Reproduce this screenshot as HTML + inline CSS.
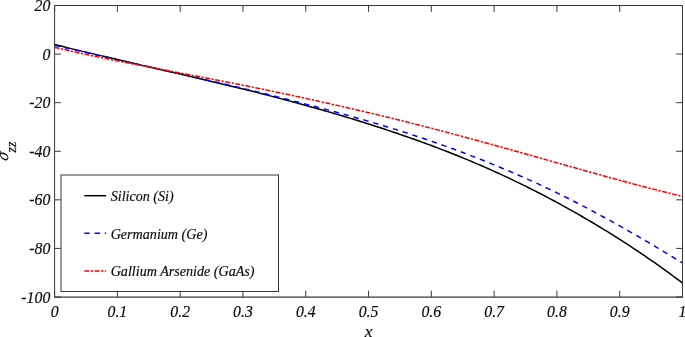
<!DOCTYPE html>
<html><head><meta charset="utf-8"><title>plot</title>
<style>
html,body{margin:0;padding:0;background:#fff;}
body{width:685px;height:337px;overflow:hidden;}
svg{display:block;}
text{font-family:"Liberation Serif",serif;font-style:italic;fill:#0a0a0a;stroke:#0a0a0a;stroke-width:0.16px;}
</style></head><body>
<svg width="685" height="337" viewBox="0 0 685 337">
<rect width="685" height="337" fill="#fff"/>
<clipPath id="c"><rect x="54.6" y="5.5" width="627.9" height="291.5"/></clipPath>
<g clip-path="url(#c)" fill="none" stroke-width="1.5">
<path d="M54.60,44.55 L57.74,45.32 L60.88,46.09 L64.02,46.85 L67.16,47.62 L70.30,48.37 L73.44,49.13 L76.58,49.89 L79.72,50.64 L82.86,51.39 L86.00,52.14 L89.13,52.89 L92.27,53.64 L95.41,54.38 L98.55,55.12 L101.69,55.86 L104.83,56.60 L107.97,57.34 L111.11,58.07 L114.25,58.81 L117.39,59.54 L120.53,60.28 L123.67,61.01 L126.81,61.74 L129.95,62.47 L133.09,63.20 L136.23,63.92 L139.37,64.65 L142.51,65.38 L145.65,66.11 L148.78,66.83 L151.92,67.56 L155.06,68.28 L158.20,69.01 L161.34,69.73 L164.48,70.46 L167.62,71.18 L170.76,71.91 L173.90,72.64 L177.04,73.36 L180.18,74.09 L183.32,74.82 L186.46,75.55 L189.60,76.28 L192.74,77.01 L195.88,77.74 L199.02,78.47 L202.16,79.21 L205.30,79.94 L208.44,80.68 L211.57,81.42 L214.71,82.16 L217.85,82.91 L220.99,83.65 L224.13,84.40 L227.27,85.15 L230.41,85.90 L233.55,86.65 L236.69,87.42 L239.83,88.18 L242.97,88.96 L246.11,89.73 L249.25,90.51 L252.39,91.30 L255.53,92.09 L258.67,92.89 L261.81,93.69 L264.95,94.50 L268.09,95.31 L271.23,96.13 L274.37,96.95 L277.50,97.78 L280.64,98.61 L283.78,99.44 L286.92,100.28 L290.06,101.13 L293.20,101.98 L296.34,102.83 L299.48,103.69 L302.62,104.55 L305.76,105.41 L308.90,106.28 L312.04,107.16 L315.18,108.03 L318.32,108.92 L321.46,109.81 L324.60,110.70 L327.74,111.60 L330.88,112.51 L334.02,113.43 L337.16,114.35 L340.29,115.28 L343.43,116.22 L346.57,117.16 L349.71,118.11 L352.85,119.07 L355.99,120.03 L359.13,121.01 L362.27,121.98 L365.41,122.97 L368.55,123.97 L371.69,124.97 L374.83,125.98 L377.97,126.99 L381.11,128.02 L384.25,129.05 L387.39,130.09 L390.53,131.14 L393.67,132.20 L396.81,133.26 L399.95,134.34 L403.08,135.42 L406.22,136.51 L409.36,137.61 L412.50,138.71 L415.64,139.83 L418.78,140.95 L421.92,142.09 L425.06,143.24 L428.20,144.39 L431.34,145.56 L434.48,146.74 L437.62,147.92 L440.76,149.12 L443.90,150.33 L447.04,151.56 L450.18,152.79 L453.32,154.03 L456.46,155.29 L459.60,156.56 L462.74,157.84 L465.87,159.13 L469.01,160.43 L472.15,161.75 L475.29,163.08 L478.43,164.42 L481.57,165.77 L484.71,167.14 L487.85,168.52 L490.99,169.91 L494.13,171.32 L497.27,172.74 L500.41,174.18 L503.55,175.62 L506.69,177.09 L509.83,178.56 L512.97,180.06 L516.11,181.56 L519.25,183.08 L522.39,184.62 L525.52,186.16 L528.66,187.73 L531.80,189.30 L534.94,190.89 L538.08,192.50 L541.22,194.12 L544.36,195.75 L547.50,197.40 L550.64,199.07 L553.78,200.75 L556.92,202.44 L560.06,204.15 L563.20,205.87 L566.34,207.60 L569.48,209.35 L572.62,211.12 L575.76,212.89 L578.90,214.68 L582.04,216.49 L585.18,218.31 L588.31,220.14 L591.45,221.99 L594.59,223.86 L597.73,225.74 L600.87,227.63 L604.01,229.55 L607.15,231.48 L610.29,233.43 L613.43,235.39 L616.57,237.37 L619.71,239.37 L622.85,241.39 L625.99,243.41 L629.13,245.46 L632.27,247.52 L635.41,249.60 L638.55,251.69 L641.69,253.81 L644.83,255.94 L647.97,258.09 L651.11,260.26 L654.24,262.45 L657.38,264.66 L660.52,266.89 L663.66,269.14 L666.80,271.41 L669.94,273.70 L673.08,276.02 L676.22,278.35 L679.36,280.70 L682.50,283.07" stroke="#000"/>
<path d="M54.60,45.36 L57.74,46.08 L60.88,46.79 L64.02,47.51 L67.16,48.23 L70.30,48.94 L73.44,49.66 L76.58,50.38 L79.72,51.10 L82.86,51.81 L86.00,52.53 L89.13,53.25 L92.27,53.97 L95.41,54.69 L98.55,55.40 L101.69,56.12 L104.83,56.84 L107.97,57.56 L111.11,58.27 L114.25,58.99 L117.39,59.70 L120.53,60.42 L123.67,61.13 L126.81,61.85 L129.95,62.56 L133.09,63.28 L136.23,63.99 L139.37,64.71 L142.51,65.42 L145.65,66.13 L148.78,66.84 L151.92,67.56 L155.06,68.27 L158.20,68.98 L161.34,69.69 L164.48,70.40 L167.62,71.11 L170.76,71.83 L173.90,72.54 L177.04,73.25 L180.18,73.96 L183.32,74.67 L186.46,75.39 L189.60,76.10 L192.74,76.81 L195.88,77.53 L199.02,78.24 L202.16,78.95 L205.30,79.67 L208.44,80.39 L211.57,81.10 L214.71,81.82 L217.85,82.54 L220.99,83.26 L224.13,83.99 L227.27,84.71 L230.41,85.43 L233.55,86.16 L236.69,86.90 L239.83,87.64 L242.97,88.38 L246.11,89.14 L249.25,89.89 L252.39,90.65 L255.53,91.42 L258.67,92.19 L261.81,92.96 L264.95,93.74 L268.09,94.52 L271.23,95.31 L274.37,96.10 L277.50,96.89 L280.64,97.69 L283.78,98.48 L286.92,99.29 L290.06,100.09 L293.20,100.89 L296.34,101.70 L299.48,102.51 L302.62,103.32 L305.76,104.14 L308.90,104.95 L312.04,105.77 L315.18,106.58 L318.32,107.40 L321.46,108.23 L324.60,109.06 L327.74,109.89 L330.88,110.73 L334.02,111.58 L337.16,112.43 L340.29,113.29 L343.43,114.15 L346.57,115.02 L349.71,115.89 L352.85,116.77 L355.99,117.66 L359.13,118.56 L362.27,119.46 L365.41,120.36 L368.55,121.28 L371.69,122.20 L374.83,123.13 L377.97,124.07 L381.11,125.01 L384.25,125.96 L387.39,126.92 L390.53,127.89 L393.67,128.86 L396.81,129.84 L399.95,130.83 L403.08,131.83 L406.22,132.84 L409.36,133.86 L412.50,134.88 L415.64,135.92 L418.78,136.96 L421.92,138.01 L425.06,139.07 L428.20,140.14 L431.34,141.22 L434.48,142.31 L437.62,143.40 L440.76,144.51 L443.90,145.62 L447.04,146.75 L450.18,147.89 L453.32,149.03 L456.46,150.19 L459.60,151.35 L462.74,152.53 L465.87,153.72 L469.01,154.91 L472.15,156.12 L475.29,157.34 L478.43,158.57 L481.57,159.81 L484.71,161.06 L487.85,162.33 L490.99,163.60 L494.13,164.88 L497.27,166.17 L500.41,167.47 L503.55,168.78 L506.69,170.10 L509.83,171.43 L512.97,172.77 L516.11,174.12 L519.25,175.49 L522.39,176.86 L525.52,178.25 L528.66,179.65 L531.80,181.06 L534.94,182.48 L538.08,183.92 L541.22,185.37 L544.36,186.84 L547.50,188.32 L550.64,189.81 L553.78,191.31 L556.92,192.83 L560.06,194.37 L563.20,195.92 L566.34,197.48 L569.48,199.06 L572.62,200.65 L575.76,202.26 L578.90,203.87 L582.04,205.51 L585.18,207.15 L588.31,208.80 L591.45,210.47 L594.59,212.15 L597.73,213.84 L600.87,215.54 L604.01,217.25 L607.15,218.97 L610.29,220.70 L613.43,222.44 L616.57,224.19 L619.71,225.95 L622.85,227.71 L625.99,229.49 L629.13,231.28 L632.27,233.08 L635.41,234.88 L638.55,236.70 L641.69,238.52 L644.83,240.36 L647.97,242.20 L651.11,244.06 L654.24,245.92 L657.38,247.79 L660.52,249.66 L663.66,251.55 L666.80,253.44 L669.94,255.35 L673.08,257.25 L676.22,259.15 L679.36,261.06 L682.50,262.97" stroke="#0000ff" stroke-dasharray="5.35,4.897"/>
<path d="M54.60,47.25 L57.74,48.00 L60.88,48.73 L64.02,49.46 L67.16,50.19 L70.30,50.90 L73.44,51.61 L76.58,52.32 L79.72,53.01 L82.86,53.70 L86.00,54.38 L89.13,55.05 L92.27,55.72 L95.41,56.37 L98.55,57.02 L101.69,57.66 L104.83,58.30 L107.97,58.93 L111.11,59.56 L114.25,60.18 L117.39,60.81 L120.53,61.43 L123.67,62.05 L126.81,62.67 L129.95,63.28 L133.09,63.90 L136.23,64.51 L139.37,65.12 L142.51,65.73 L145.65,66.33 L148.78,66.94 L151.92,67.55 L155.06,68.15 L158.20,68.75 L161.34,69.36 L164.48,69.96 L167.62,70.56 L170.76,71.16 L173.90,71.77 L177.04,72.37 L180.18,72.97 L183.32,73.57 L186.46,74.18 L189.60,74.78 L192.74,75.38 L195.88,75.99 L199.02,76.59 L202.16,77.20 L205.30,77.80 L208.44,78.41 L211.57,79.02 L214.71,79.63 L217.85,80.24 L220.99,80.86 L224.13,81.47 L227.27,82.09 L230.41,82.71 L233.55,83.33 L236.69,83.95 L239.83,84.58 L242.97,85.21 L246.11,85.84 L249.25,86.48 L252.39,87.12 L255.53,87.76 L258.67,88.41 L261.81,89.06 L264.95,89.71 L268.09,90.36 L271.23,91.02 L274.37,91.68 L277.50,92.35 L280.64,93.01 L283.78,93.68 L286.92,94.35 L290.06,95.02 L293.20,95.70 L296.34,96.38 L299.48,97.06 L302.62,97.74 L305.76,98.42 L308.90,99.11 L312.04,99.79 L315.18,100.48 L318.32,101.17 L321.46,101.87 L324.60,102.56 L327.74,103.26 L330.88,103.97 L334.02,104.67 L337.16,105.38 L340.29,106.09 L343.43,106.81 L346.57,107.52 L349.71,108.25 L352.85,108.97 L355.99,109.70 L359.13,110.43 L362.27,111.16 L365.41,111.90 L368.55,112.64 L371.69,113.39 L374.83,114.14 L377.97,114.89 L381.11,115.64 L384.25,116.40 L387.39,117.17 L390.53,117.93 L393.67,118.70 L396.81,119.48 L399.95,120.25 L403.08,121.04 L406.22,121.82 L409.36,122.61 L412.50,123.40 L415.64,124.20 L418.78,125.00 L421.92,125.81 L425.06,126.61 L428.20,127.43 L431.34,128.24 L434.48,129.06 L437.62,129.88 L440.76,130.71 L443.90,131.54 L447.04,132.37 L450.18,133.20 L453.32,134.04 L456.46,134.88 L459.60,135.73 L462.74,136.57 L465.87,137.42 L469.01,138.27 L472.15,139.13 L475.29,139.98 L478.43,140.84 L481.57,141.70 L484.71,142.56 L487.85,143.42 L490.99,144.29 L494.13,145.16 L497.27,146.03 L500.41,146.90 L503.55,147.77 L506.69,148.64 L509.83,149.52 L512.97,150.40 L516.11,151.28 L519.25,152.16 L522.39,153.04 L525.52,153.92 L528.66,154.80 L531.80,155.69 L534.94,156.57 L538.08,157.45 L541.22,158.34 L544.36,159.23 L547.50,160.11 L550.64,161.00 L553.78,161.88 L556.92,162.77 L560.06,163.65 L563.20,164.54 L566.34,165.42 L569.48,166.31 L572.62,167.19 L575.76,168.07 L578.90,168.95 L582.04,169.83 L585.18,170.71 L588.31,171.58 L591.45,172.46 L594.59,173.33 L597.73,174.20 L600.87,175.07 L604.01,175.94 L607.15,176.81 L610.29,177.67 L613.43,178.53 L616.57,179.39 L619.71,180.24 L622.85,181.09 L625.99,181.94 L629.13,182.79 L632.27,183.63 L635.41,184.46 L638.55,185.30 L641.69,186.12 L644.83,186.95 L647.97,187.77 L651.11,188.58 L654.24,189.39 L657.38,190.19 L660.52,190.99 L663.66,191.78 L666.80,192.56 L669.94,193.34 L673.08,194.12 L676.22,194.88 L679.36,195.65 L682.50,196.40" stroke="#ff0000" stroke-dasharray="5.03,1.43,2.35,1.43"/>
</g>
<g stroke="#383838" stroke-width="1" fill="none">
<path d="M54.6,297.0V5.5H682.5V297.0"/><path d="M54.1,297.05H683.0" stroke-width="1.15"/>
<path d="M54.60,297.0v-6.3M54.60,5.5v6.3M117.39,297.0v-6.3M117.39,5.5v6.3M180.18,297.0v-6.3M180.18,5.5v6.3M242.97,297.0v-6.3M242.97,5.5v6.3M305.76,297.0v-6.3M305.76,5.5v6.3M368.55,297.0v-6.3M368.55,5.5v6.3M431.34,297.0v-6.3M431.34,5.5v6.3M494.13,297.0v-6.3M494.13,5.5v6.3M556.92,297.0v-6.3M556.92,5.5v6.3M619.71,297.0v-6.3M619.71,5.5v6.3M682.50,297.0v-6.3M682.50,5.5v6.3M54.6,297.00h6.3M682.5,297.00h-6.3M54.6,248.42h6.3M682.5,248.42h-6.3M54.6,199.83h6.3M682.5,199.83h-6.3M54.6,151.25h6.3M682.5,151.25h-6.3M54.6,102.67h6.3M682.5,102.67h-6.3M54.6,54.08h6.3M682.5,54.08h-6.3M54.6,5.50h6.3M682.5,5.50h-6.3"/>
</g>
<text x="54.60" y="316.5" font-size="15.8" text-anchor="middle">0</text>
<text x="117.39" y="316.5" font-size="15.8" text-anchor="middle">0.1</text>
<text x="180.18" y="316.5" font-size="15.8" text-anchor="middle">0.2</text>
<text x="242.97" y="316.5" font-size="15.8" text-anchor="middle">0.3</text>
<text x="305.76" y="316.5" font-size="15.8" text-anchor="middle">0.4</text>
<text x="368.55" y="316.5" font-size="15.8" text-anchor="middle">0.5</text>
<text x="431.34" y="316.5" font-size="15.8" text-anchor="middle">0.6</text>
<text x="494.13" y="316.5" font-size="15.8" text-anchor="middle">0.7</text>
<text x="556.92" y="316.5" font-size="15.8" text-anchor="middle">0.8</text>
<text x="619.71" y="316.5" font-size="15.8" text-anchor="middle">0.9</text>
<text x="682.50" y="316.5" font-size="15.8" text-anchor="middle">1</text>
<text x="50.3" y="302.60" font-size="15.8" text-anchor="end">-100</text>
<text x="50.3" y="254.02" font-size="15.8" text-anchor="end">-80</text>
<text x="50.3" y="205.43" font-size="15.8" text-anchor="end">-60</text>
<text x="50.3" y="156.85" font-size="15.8" text-anchor="end">-40</text>
<text x="50.3" y="108.27" font-size="15.8" text-anchor="end">-20</text>
<text x="50.3" y="59.68" font-size="15.8" text-anchor="end">0</text>
<text x="50.3" y="11.10" font-size="15.8" text-anchor="end">20</text>
<text x="368.5" y="336.8" font-size="17.4" text-anchor="middle">x</text>
<g transform="translate(8,161) rotate(-90)"><text transform="translate(-0.6,-0.4) skewX(-14)" font-size="17.4">σ</text><text x="8.6" y="8.45" font-size="13.9">zz</text></g>
<rect x="61.0" y="175.0" width="217.5" height="116.5" fill="#fff" stroke="#383838" stroke-width="1"/>
<path d="M84.3,195.7H106.1" stroke="#000" stroke-width="1.5" fill="none"/>
<text x="110.7" y="201.20" font-size="14.1">Silicon (Si)</text>
<path d="M84.3,233.3H106.1" stroke="#0000ff" stroke-width="1.5" fill="none" stroke-dasharray="5.35,4.897"/>
<text x="110.7" y="238.80" font-size="14.1">Germanium (Ge)</text>
<path d="M84.3,270.9H106.1" stroke="#ff0000" stroke-width="1.5" fill="none" stroke-dasharray="5.03,1.43,2.35,1.43"/>
<text x="110.7" y="276.40" font-size="14.1">Gallium Arsenide (GaAs)</text>
</svg></body></html>
